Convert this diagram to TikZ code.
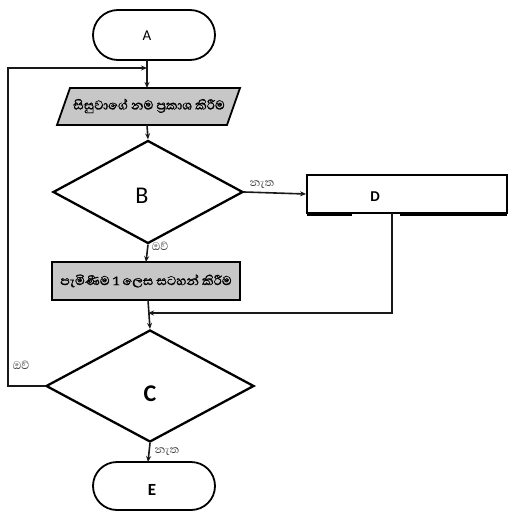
\documentclass[tikz,border=0pt]{standalone}
\usepackage{fontspec}
\setmainfont{Carlito}
\newfontfamily\sinhfont[Script=Sinhala]{Abhaya Libre}
\newfontfamily\sinhbold[Script=Sinhala,FakeBold=1.2]{Abhaya Libre}
\usetikzlibrary{arrows.meta,shapes.geometric,shapes.misc}
\begin{document}
\begin{tikzpicture}[x=1pt,y=-1pt,
  ln/.style={line width=1.6pt,black!90},
  arr/.style={ln,-{Stealth[length=6pt,width=5pt]}},
  term/.style={draw,line width=1.8pt,rounded rectangle,minimum width=122pt,minimum height=50pt,inner sep=0pt},
  dec/.style={draw,line width=2.3pt,diamond,inner sep=0pt},
  gbox/.style={draw,line width=1.8pt,fill=black!22,inner sep=0pt},
  lbl/.style={font=\sinhfont\fontsize{14}{14}\selectfont,black!75},
  boxtxt/.style={font=\sinhbold\fontsize{16.3}{17}\selectfont}]
\useasboundingbox (0,0) rectangle (509,522);
\fill[white] (0,0) rectangle (509,522);
% A
\node[term] (A) at (154,35) {};
\node[font=\fontsize{15}{15}\selectfont] (At) at (147,36) {A};
% parallelogram
\draw[gbox] (70,88) -- (240,88) -- (227,125) -- (57,125) -- cycle;
\coordinate (Ptop) at (147,88);
\coordinate (Pbot) at (147,125);
\node[boxtxt] (Ptext) at (149,106) {සිසුවාගේ නම ප්‍රකාශ කිරීම};
% B
\node[dec,minimum width=190pt,minimum height=103pt] (B) at (148,192) {};
\node[font=\fontsize{24}{24}\selectfont] (Bt) at (142,196) {B};
% D
\node[draw,line width=1.8pt,minimum width=200pt,minimum height=38pt,inner sep=0pt] (D) at (407,194) {};
\node[font=\bfseries\fontsize{15}{15}\selectfont] (Dt) at (375,197) {D};
\draw[line width=2.5pt] (307,214.5) -- (352,214.5) (400,214.5) -- (507,214.5);
% gray rect
\node[gbox,minimum width=188pt,minimum height=38pt] (R) at (146,281) {};
\node[boxtxt] (Rtext) at (146,281) {පැමිණීම 1 ලෙස සටහන් කිරීම};
% C
\node[dec,minimum width=208pt,minimum height=112pt] (C) at (150,386) {};
\node[font=\bfseries\fontsize{24}{24}\selectfont] (Ct) at (150,394) {C};
% E
\node[term,minimum width=122pt,minimum height=48pt] (E) at (154,486) {};
\node[font=\bfseries\fontsize{17}{17}\selectfont] (Et) at (152,490) {E};
% connectors
\coordinate (Aout) at (147,60);
\coordinate (J1) at (147,68);
\coordinate (L1) at (8,386);
\coordinate (L2) at (8,68);
\draw[arr] (Aout) -- (Ptop);
\draw[arr] (C.west) -- (L1) -- (L2) -- (J1);
\draw[arr] (Pbot) -- (B.north);
\draw[arr] (B.east) -- (D.west);
\node[lbl] (no1) at (262,185) {නැත};
\draw[arr] (B.south) -- (146,262);
\node[lbl] (yes1) at (160,246) {ඔව්};
\coordinate (Rb) at (148,300);
\coordinate (J2) at (148,313);
\coordinate (Dd) at (392,313);
\draw[arr] (Rb) -- (C.north);
\draw[arr] (392,213) -- (Dd) -- (J2);
\node[lbl] (yes2) at (21,365) {ඔව්};
\draw[arr] (C.south) -- (148,462);
\node[lbl] (no2) at (167,452) {නැත};
\end{tikzpicture}
\end{document}
